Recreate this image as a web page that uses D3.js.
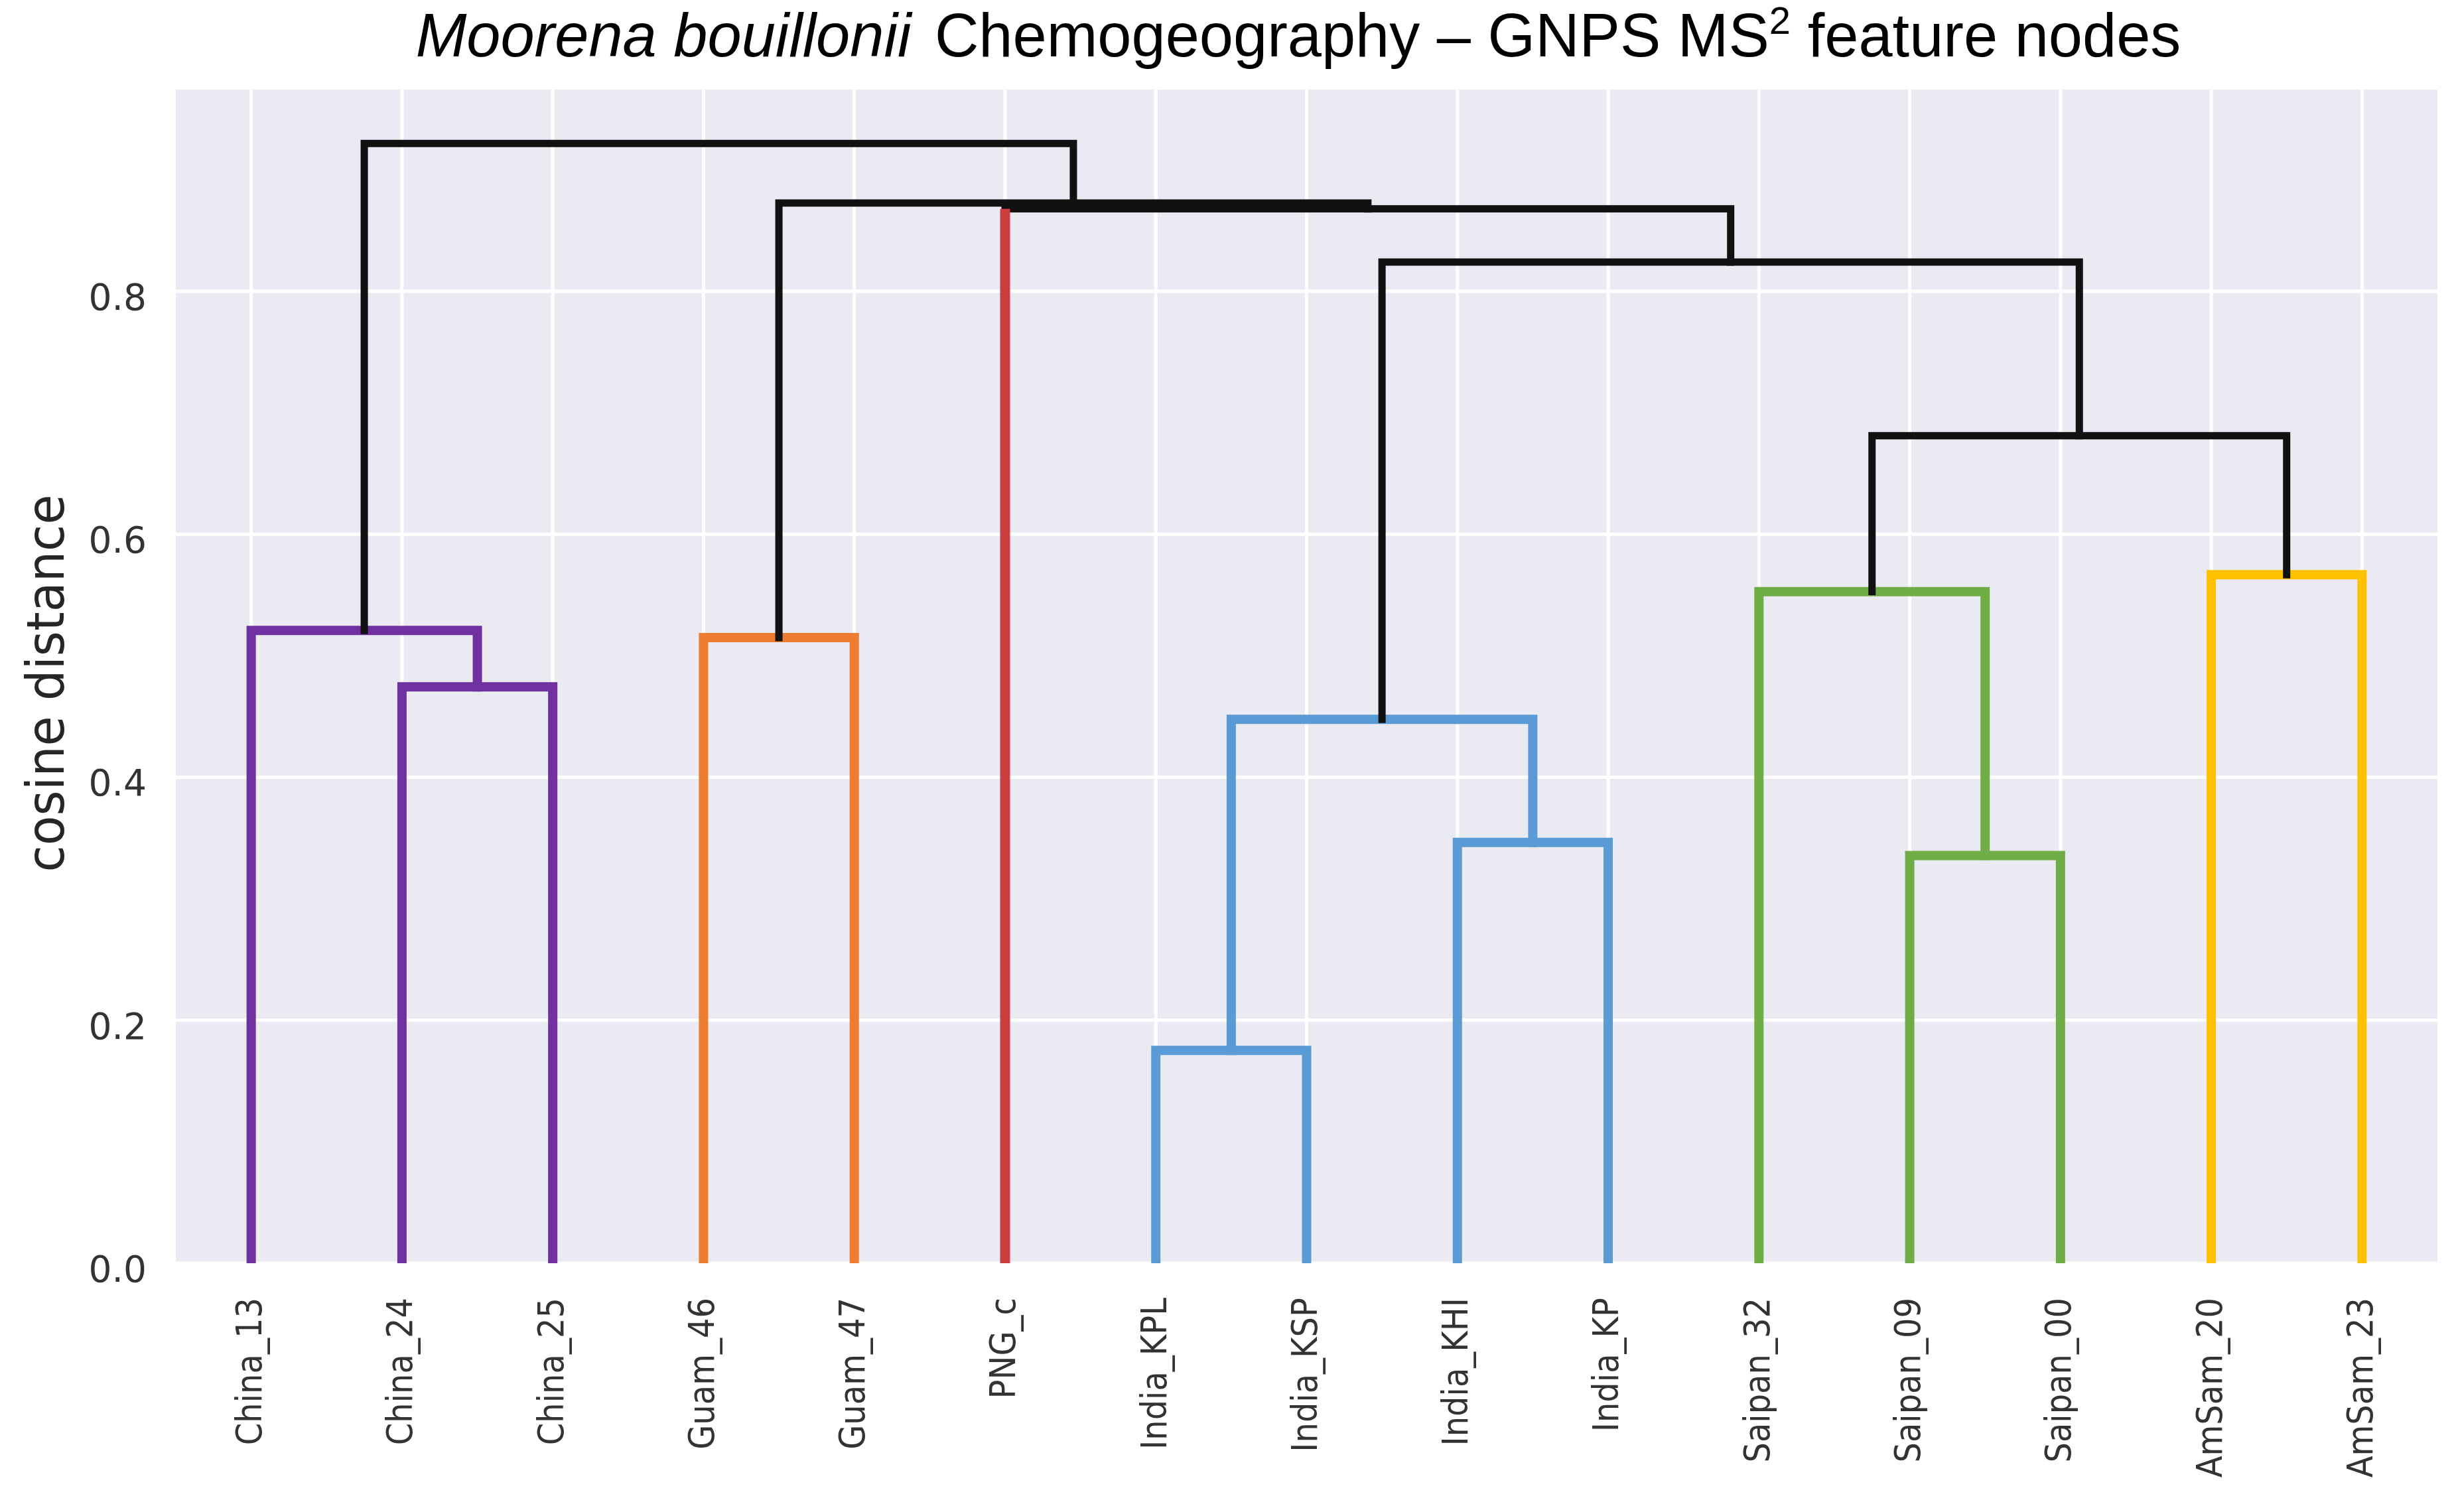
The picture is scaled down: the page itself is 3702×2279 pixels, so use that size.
<!DOCTYPE html>
<html>
<head>
<meta charset="utf-8">
<script src="https://cdn.jsdelivr.net/npm/d3@7"></script>
<style>
  html, body { margin: 0; padding: 0; background: #ffffff; }
  svg { display: block; }
</style>
</head>
<body>
<script>
// ---------------- data ----------------
const leafLabels = ["China_13","China_24","China_25","Guam_46","Guam_47","PNG_c",
  "India_KPL","India_KSP","India_KHI","India_KP","Saipan_32","Saipan_09","Saipan_00",
  "AmSam_20","AmSam_23"];
// merges (ids: 0..14 leaves, 15.. merges in order)
const mergeLeft   = [1, 0, 3, 6, 8, 18, 11, 10, 13, 22, 20, 5, 17, 16];
const mergeRight  = [2, 15, 4, 7, 9, 19, 12, 21, 14, 23, 24, 25, 26, 27];
const mergeHeight = [0.4744, 0.5208, 0.5150, 0.1751, 0.3464, 0.4476, 0.3355, 0.5527,
  0.5667, 0.6811, 0.8240, 0.8679, 0.8726, 0.9216];
const mergeColor  = ["#7030A0","#7030A0","#ED7D31","#5B9BD5","#5B9BD5","#5B9BD5",
  "#70AD47","#70AD47","#FFC000","#111111","#111111","#111111","#111111","#111111"];
const stemLeaves  = ["PNG_c"];
const stemColors  = ["#CC3D40"];
const yTicks = [0.0, 0.2, 0.4, 0.6, 0.8];
const yMax = 0.966;
const titleItalic = "Moorena bouillonii";
const titleRest = " Chemogeography \u2013 GNPS MS";
const titleSup = "2";
const titleEnd = " feature nodes";
const yLabel = "cosine distance";

// ---------------- layout ----------------
const W = 3702, H = 2279;
const plot = {left: 265, right: 3674, top: 135, bottom: 1904};

const svg = d3.select("body").append("svg")
  .attr("width", W).attr("height", H)
  .attr("viewBox", `0 0 ${W} ${H}`);

const x = d3.scaleLinear().domain([0, leafLabels.length * 10]).range([plot.left, plot.right]);
const y = d3.scaleLinear().domain([0, yMax]).range([plot.bottom, plot.top]);

// background
svg.append("rect").attr("x", plot.left).attr("y", plot.top)
  .attr("width", plot.right - plot.left).attr("height", plot.bottom - plot.top)
  .attr("fill", "#EAEAF2");

// clip
svg.append("defs").append("clipPath").attr("id", "clip")
  .append("rect").attr("x", plot.left).attr("y", plot.top)
  .attr("width", plot.right - plot.left).attr("height", plot.bottom - plot.top);

const leafX = leafLabels.map((d, i) => 5 + 10 * i);

// grid
const grid = svg.append("g").attr("clip-path", "url(#clip)");
grid.selectAll("line.v").data(leafX).join("line")
  .attr("x1", d => x(d)).attr("x2", d => x(d))
  .attr("y1", plot.top).attr("y2", plot.bottom)
  .attr("stroke", "#ffffff").attr("stroke-width", 5);
grid.selectAll("line.h").data(yTicks).join("line")
  .attr("x1", plot.left).attr("x2", plot.right)
  .attr("y1", d => y(d)).attr("y2", d => y(d))
  .attr("stroke", "#ffffff").attr("stroke-width", 5);

// compute node positions
const nodeX = leafX.slice();
const nodeH = leafX.map(() => 0);
mergeLeft.forEach((l, i) => {
  nodeX.push((nodeX[l] + nodeX[mergeRight[i]]) / 2);
  nodeH.push(mergeHeight[i]);
});

const links = mergeLeft.map((l, i) => {
  const r = mergeRight[i];
  return {
    pts: [[nodeX[l], nodeH[l]], [nodeX[l], mergeHeight[i]], [nodeX[r], mergeHeight[i]], [nodeX[r], nodeH[r]]],
    color: mergeColor[i],
    black: mergeColor[i] === "#111111"
  };
});

const line = d3.line().x(d => x(d[0])).y(d => y(d[1]));
const dg = svg.append("g").attr("clip-path", "url(#clip)");
const ordered = links.filter(d => !d.black).concat(links.filter(d => d.black));
dg.selectAll("path.link").data(ordered).join("path")
  .attr("d", d => line(d.pts))
  .attr("fill", "none")
  .attr("stroke", d => d.color)
  .attr("stroke-width", d => d.black ? 11 : 14)
  .attr("stroke-linecap", "square")
  .attr("stroke-linejoin", "miter");

// singleton stems (leaf drawn in its own colour up to the merge height)
const stems = stemLeaves.map((name, k) => {
  const idx = leafLabels.indexOf(name);
  const mi = mergeLeft.indexOf(idx) >= 0 ? mergeLeft.indexOf(idx) : mergeRight.indexOf(idx);
  return {xv: leafX[idx], h: mergeHeight[mi], color: stemColors[k]};
});
dg.selectAll("line.stem").data(stems).join("line")
  .attr("x1", d => x(d.xv)).attr("x2", d => x(d.xv))
  .attr("y1", y(0)).attr("y2", d => y(d.h))
  .attr("stroke", d => d.color).attr("stroke-width", 15);

// y tick labels
svg.append("g").selectAll("text").data(yTicks).join("text")
  .attr("x", 221).attr("y", d => y(d) + 28)
  .attr("text-anchor", "end")
  .attr("font-family", "DejaVu Sans")
  .attr("font-size", 55)
  .attr("fill", "#333333")
  .text(d => d3.format(".1f")(d));

// x tick labels (rotated)
svg.append("g").selectAll("text").data(leafLabels).join("text")
  .attr("transform", (d, i) => `translate(${x(leafX[i]) - 3},1956) rotate(-90) scale(1,1.12)`)
  .attr("text-anchor", "end")
  .attr("dominant-baseline", "central")
  .attr("font-family", "DejaVu Sans")
  .attr("font-size", 48)
  .attr("fill", "#333333")
  .text(d => d);

// y label
svg.append("text")
  .attr("transform", "translate(96,1030) rotate(-90)")
  .attr("text-anchor", "middle")
  .attr("font-family", "DejaVu Sans")
  .attr("font-size", 78)
  .attr("textLength", 569)
  .attr("lengthAdjust", "spacingAndGlyphs")
  .attr("fill", "#262626")
  .text(yLabel);

// title
const t = svg.append("text")
  .attr("x", 1957).attr("y", 85)
  .attr("text-anchor", "middle")
  .attr("font-family", "Liberation Sans, Arial, sans-serif")
  .attr("font-size", 92)
  .attr("fill", "#000000");
t.append("tspan").attr("font-style", "italic").text(titleItalic);
t.append("tspan").attr("dx", 10).text(titleRest);
t.append("tspan").attr("font-size", 58).attr("dy", -34).text(titleSup);
t.append("tspan").attr("dy", 34).text(titleEnd);
</script>
</body>
</html>
